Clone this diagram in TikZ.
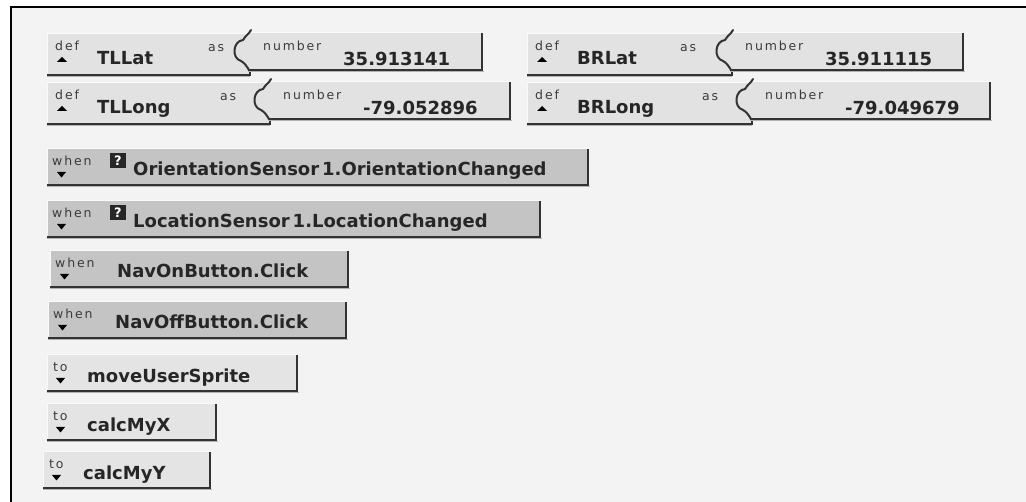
\documentclass[tikz,border=0pt]{standalone}
\usepackage{fontspec}
\setmainfont{DejaVu Sans}
\newfontfamily\smallf[LetterSpace=15]{DejaVu Sans}
\definecolor{bgc}{HTML}{F3F3F3}
\definecolor{defc}{HTML}{E2E2E2}
\definecolor{whenc}{HTML}{C4C4C4}
\definecolor{toc}{HTML}{E4E4E4}
\definecolor{edged}{HTML}{333333}
\definecolor{edgel}{HTML}{FAFAFA}
\definecolor{txt}{HTML}{262626}
\tikzset{
  lbl/.style={font=\fontsize{18}{18}\selectfont\bfseries, anchor=base west, inner sep=0pt, text=txt},
  sml/.style={font=\smallf\fontsize{12.5}{12.5}\selectfont, anchor=base west, inner sep=0pt, text=txt!90},
  darkedge/.style={draw=edged, line width=2pt},
  lightedge/.style={draw=edgel, line width=1pt},
}
% bevelled block: x1 y1 x2 y2 fill
\newcommand\bevblk[5]{%
  \fill[#5] (#1,#2) rectangle (#3,#4);
  \draw[lightedge] (#1,#4) -- (#1,#2) -- (#3,#2);
  \draw[gray!60, line width=1pt] (#1,#4+1.5) -- (#3+1.5,#4+1.5);
  \draw[darkedge] (#1,#4) -- (#3,#4) -- (#3,#2);
}
% def row: left top conn right label value asx name
\newcommand\defrow[8]{%
  \fill[defc] (#1,#2) rectangle (#3+2,#2+41);
  \draw[lightedge] (#1,#2+41) -- (#1,#2) -- (#3,#2);
  \draw[gray!60, line width=1pt] (#1,#2+42.5) -- (#3+2,#2+42.5);
  \draw[darkedge] (#1,#2+41) -- (#3+2,#2+41) -- (#3+2,#2+37);
  \bevblk{#3}{#2-1}{#4}{#2+36}{defc}
  \fill[defc] (#3+1,#2) .. controls (#3-3,#2+3) .. (#3-5,#2+6)
    .. controls (#3-15,#2+7) and (#3-17,#2+24) .. (#3-7,#2+27)
    .. controls (#3-3,#2+29) and (#3-1,#2+33) .. (#3+1,#2+35) -- cycle;
  \draw[edged, line width=2pt, line cap=round, line join=round]
    (#3+3,#2-4) -- (#3+1,#2-1) .. controls (#3-3,#2+3) .. (#3-5,#2+6)
    .. controls (#3-15,#2+7) and (#3-17,#2+24) .. (#3-7,#2+27)
    .. controls (#3-3,#2+29) and (#3-1,#2+33) .. (#3+1,#2+36);
  \node[sml] (#8-def) at (#1+8,#2+17) {def};
  \fill[black] (#1+10,#2+28) -- (#1+20,#2+28) -- (#1+15,#2+23) -- cycle;
  \node[lbl] (#8-lbl) at (#1+50,#2+31) {#5};
  \node[sml] (#8-as) at (#7,#2+18) {as};
  \node[sml] (#8-num) at (#3+15,#2+17) {number};
  \node[lbl] (#8-val) at (#3+95,#2+32) {#6};
}
% when block: x1 y1 x2 textx text name
\newcommand\whenblk[6]{%
  \bevblk{#1}{#2}{#3}{#2+36}{whenc}
  \node[sml] (#6-when) at (#1+5,#2+17) {when};
  \fill[black] (#1+10,#2+23) -- (#1+19,#2+23) -- (#1+14.5,#2+28.5) -- cycle;
  \node[lbl] (#6-lbl) at (#4,#2+27) {#5};
}
\newcommand\qbox[3]{%
  \fill[black!85] (#1,#2) rectangle (#1+16,#2+15);
  \node[font=\fontsize{13}{13}\selectfont\bfseries, text=white, inner sep=0pt] (#3) at (#1+8,#2+7.5) {?};
}
% to block: x1 y1 x2 textx text name
\newcommand\toblk[6]{%
  \bevblk{#1}{#2}{#3}{#2+36}{toc}
  \node[sml] (#6-to) at (#1+6,#2+17) {to};
  \fill[black] (#1+9,#2+23) -- (#1+18,#2+23) -- (#1+13.5,#2+28.5) -- cycle;
  \node[lbl] (#6-lbl) at (#4,#2+28) {#5};
}
\begin{document}
\begin{tikzpicture}[x=1pt,y=-1pt]
\useasboundingbox (0,0) rectangle (1026,502);
\fill[white] (0,0) rectangle (1026,502);
\fill[bgc] (11,7) rectangle (1026,502);
\draw[black, line width=2pt] (11,502) -- (11,7) -- (1026,7);

\defrow{47}{34}{248}{482}{TLLat}{35.913141}{208}{tllat}
\defrow{47}{83}{268}{510}{TLLong}{-79.052896}{220}{tllong}
\defrow{527}{34}{730}{963}{BRLat}{35.911115}{680}{brlat}
\defrow{527}{83}{750}{990}{BRLong}{-79.049679}{702}{brlong}

\whenblk{47}{149}{588}{133}{OrientationSensor\,1.OrientationChanged}{ori}
\qbox{110}{153}{oriq}
\whenblk{47}{201}{540}{133}{LocationSensor\,1.LocationChanged}{loc}
\qbox{110}{205}{locq}
\whenblk{50}{251}{348}{117}{NavOnButton.Click}{navon}
\whenblk{48}{302}{346}{115}{NavOffButton.Click}{navoff}

\toblk{47}{355}{297}{87}{moveUserSprite}{move}
\toblk{47}{404}{216}{87}{calcMyX}{calcx}
\toblk{43}{452}{210}{83}{calcMyY}{calcy}
\end{tikzpicture}
\end{document}
